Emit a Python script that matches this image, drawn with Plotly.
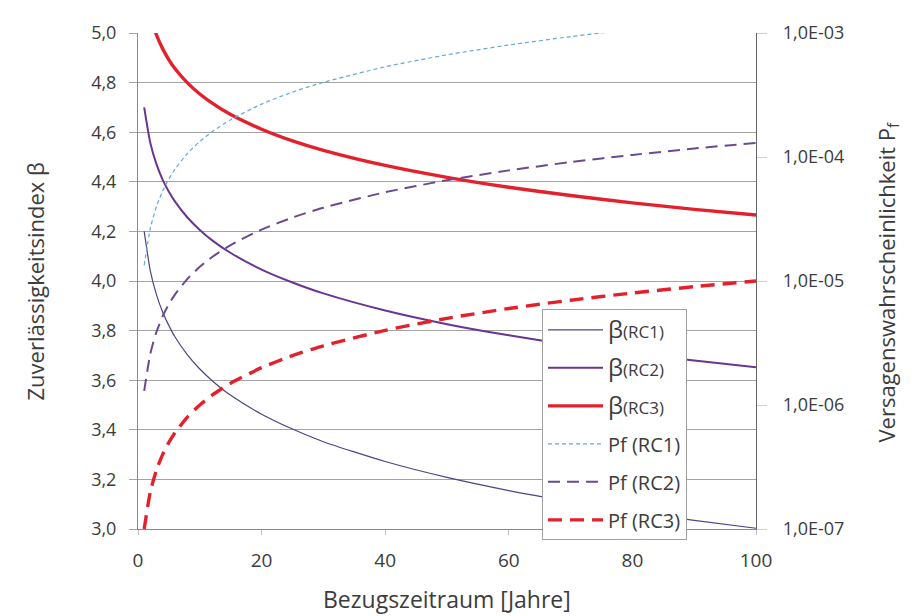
import plotly.graph_objects as go

# Reference period in years
years = [1, 2, 3, 4, 5, 6, 8, 10, 12, 15, 20, 25, 30, 40, 50, 60, 70, 80, 90, 100]

# Reliability index beta (left axis)
beta_rc1 = [4.200, 4.040, 3.944, 3.874, 3.820, 3.774, 3.702, 3.645, 3.598, 3.539,
            3.463, 3.403, 3.352, 3.272, 3.208, 3.155, 3.110, 3.070, 3.035, 3.003]
beta_rc2 = [4.700, 4.556, 4.470, 4.408, 4.360, 4.320, 4.256, 4.206, 4.164, 4.113,
            4.046, 3.994, 3.950, 3.881, 3.826, 3.781, 3.742, 3.709, 3.679, 3.652]
beta_rc3 = [5.200, 5.070, 4.992, 4.936, 4.892, 4.856, 4.799, 4.754, 4.717, 4.671,
            4.612, 4.565, 4.527, 4.466, 4.418, 4.378, 4.345, 4.315, 4.289, 4.266]

# Failure probability Pf (right axis, log)
pf_rc1 = [1.335e-5, 2.67e-5, 4.0e-5, 5.34e-5, 6.67e-5, 8.0e-5, 1.07e-4, 1.335e-4, 1.6e-4, 2.0e-4,
          2.67e-4, 3.34e-4, 4.0e-4, 5.34e-4, 6.67e-4, 8.0e-4, 9.35e-4, 1.07e-3, 1.2e-3, 1.335e-3]
pf_rc2 = [1.3e-6, 2.6e-6, 3.9e-6, 5.2e-6, 6.5e-6, 7.8e-6, 1.04e-5, 1.3e-5, 1.56e-5, 1.95e-5,
          2.6e-5, 3.25e-5, 3.9e-5, 5.2e-5, 6.5e-5, 7.8e-5, 9.1e-5, 1.04e-4, 1.17e-4, 1.3e-4]
pf_rc3 = [1.0e-7, 2.0e-7, 3.0e-7, 4.0e-7, 5.0e-7, 6.0e-7, 8.0e-7, 1.0e-6, 1.2e-6, 1.5e-6,
          2.0e-6, 2.5e-6, 3.0e-6, 4.0e-6, 5.0e-6, 6.0e-6, 7.0e-6, 8.0e-6, 9.0e-6, 1.0e-5]

x_ticks = [0, 20, 40, 60, 80, 100]
pf_tickvals = [1e-7, 1e-6, 1e-5, 1e-4, 1e-3]
pf_ticktext = ["1,0E-07", "1,0E-06", "1,0E-05", "1,0E-04", "1,0E-03"]

FONT = "Open Sans, Noto Sans, sans-serif"
TXT = "#3c3c3c"


def beta_name(rc):
    return ("<span style='font-size:24px'>β</span>"
            f"<span style='font-size:17px'>({rc})</span>")


fig = go.Figure()

series = [
    (beta_name("RC1"), years, beta_rc1, "y", "#4e4486", 1.2, "solid"),
    (beta_name("RC2"), years, beta_rc2, "y", "#6a3592", 2.0, "solid"),
    (beta_name("RC3"), years, beta_rc3, "y", "#e3212d", 3.4, "solid"),
    ("Pf (RC1)", years, pf_rc1, "y2", "#62a9d6", 1.2, "4px,3px"),
    ("Pf (RC2)", years, pf_rc2, "y2", "#6a4a8c", 2.0, "12px,7px"),
    ("Pf (RC3)", years, pf_rc3, "y2", "#e3212d", 3.4, "14px,8px"),
]
for i, (name, xs, ys, yax, col, w, dash) in enumerate(series):
    fig.add_trace(go.Scatter(
        x=xs, y=ys, name=name, yaxis=yax, mode="lines",
        line=dict(color=col, width=w, dash=dash, shape="spline", smoothing=0.6),
        legendgroup=f"g{i}",
    ))

fig.update_layout(
    width=920, height=616,
    margin=dict(l=130, r=172, t=22, b=95),
    paper_bgcolor="white", plot_bgcolor="white",
    separators=",.",
    font=dict(family=FONT, size=19, color=TXT),
    showlegend=True,
    legend=dict(
        x=(534 - 130) / 618, y=(521 - 300) / 499, xanchor="left", yanchor="top",
        bgcolor="white", bordercolor="#a0a0a0", borderwidth=1,
        font=dict(size=20, color=TXT),
        tracegroupgap=9,
        itemwidth=55,
    ),
    xaxis=dict(
        range=[0, 100], tickvals=x_ticks, showgrid=False, zeroline=False,
        showline=True, linecolor="#8a8a8a", linewidth=1,
        ticks="outside", ticklen=5, tickcolor="#c0c0c0",
        tickfont=dict(size=19, color=TXT),
        ticklabelstandoff=9,
    ),
    yaxis=dict(
        range=[3.0, 5.0], dtick=0.2, tick0=3.0, tickformat=".1f",
        showgrid=True, gridcolor="#a3a3a3", gridwidth=1, zeroline=False,
        showline=True, linecolor="#8a8a8a", linewidth=1,
        ticks="outside", ticklen=8, tickcolor="#a3a3a3",
        tickfont=dict(size=18, color=TXT),
        ticklabelstandoff=9,
    ),
    yaxis2=dict(
        type="log", range=[-7, -3], overlaying="y", side="right",
        tickvals=pf_tickvals, ticktext=pf_ticktext,
        showgrid=False, zeroline=False,
        showline=True, linecolor="#666666", linewidth=1.2,
        ticks="outside", ticklen=10, tickcolor="#d0d0d0",
        tickfont=dict(size=18, color=TXT),
        ticklabelstandoff=12,
    ),
    annotations=[
        dict(text="Zuverlässigkeitsindex β", xref="paper", yref="paper",
             x=(27 - 130) / 618, y=(521 - 272) / 499, textangle=-90,
             showarrow=False, xanchor="center", yanchor="middle",
             font=dict(size=22, color=TXT)),
        dict(text="Versagenswahrscheinlichkeit P<sub>f</sub>", xref="paper", yref="paper",
             x=(880 - 130) / 618, y=(521 - 272) / 499, textangle=-90,
             showarrow=False, xanchor="center", yanchor="middle",
             font=dict(size=22, color=TXT)),
        dict(text="Bezugszeitraum [Jahre]", xref="paper", yref="paper",
             x=0.5, y=(521 - 591) / 499, showarrow=False,
             xanchor="center", yanchor="middle",
             font=dict(size=23, color=TXT)),
    ],
)

fig.write_html("out.html")
